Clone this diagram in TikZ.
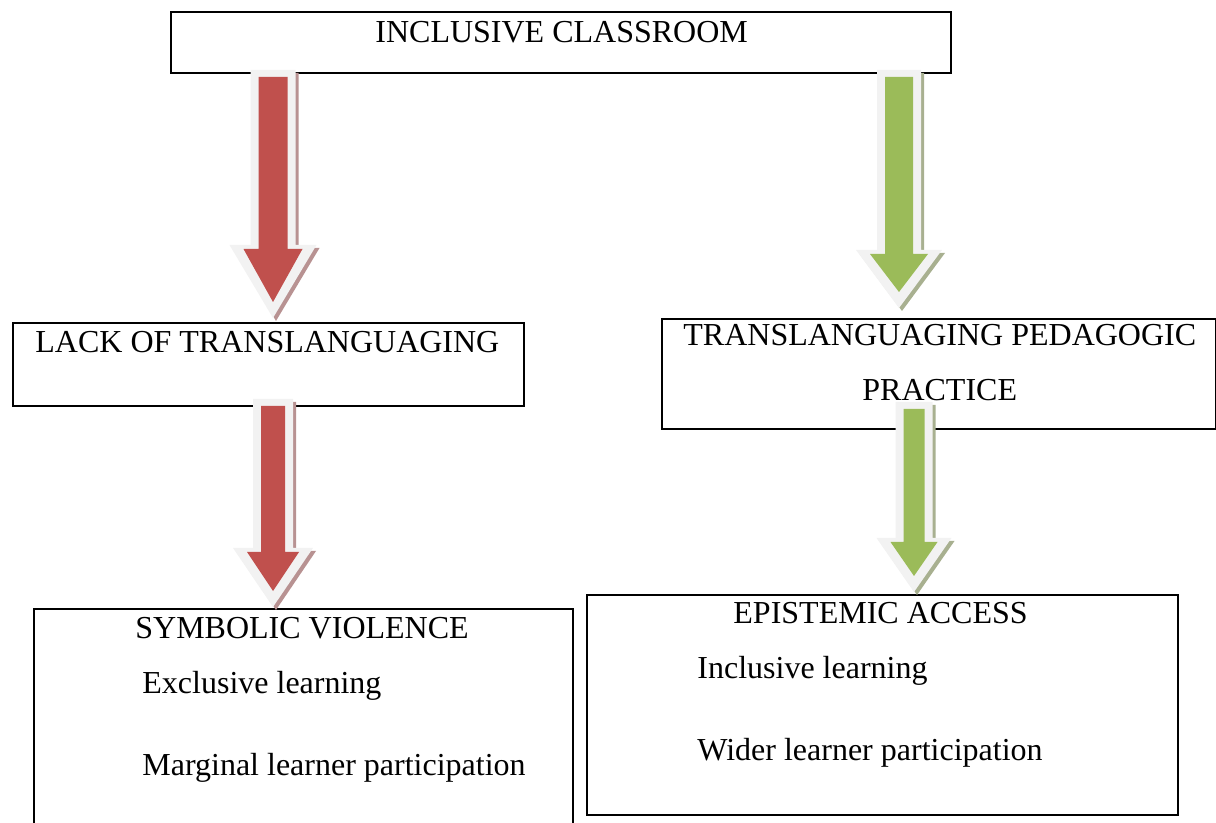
\documentclass[tikz,border=0pt]{standalone}
\usepackage{fontspec}
\setmainfont{Liberation Serif}
\usepackage{tikz}
\usetikzlibrary{calc, positioning}
\definecolor{lackred}{RGB}{192,80,77}
\definecolor{lackshadow}{RGB}{184,146,146}
\definecolor{transgreen}{RGB}{155,187,89}
\definecolor{transshadow}{RGB}{168,176,144}
\definecolor{framegray}{RGB}{242,242,242}

% block arrow: fill, shadow, from, to, shaft half width, head half width, head length
\newcommand{\flowarrow}[7]{%
    \coordinate (fs) at (#3);
    \coordinate (fe) at (#4);
    \fill [#2, transform canvas={xshift=1.5pt, yshift=-1.5pt}] ($(fs)+(-#5,0)$) -- ($(fs)+(#5,0)$) -- ($(fs|-fe)+(#5,-#7)$) -- ($(fs|-fe)+(#6,-#7)$)
        -- (fs|-fe) -- ($(fs|-fe)+(-#6,-#7)$) -- ($(fs|-fe)+(-#5,-#7)$) -- cycle;
    \fill [framegray] ($(fs)+(-#5,0)$) -- ($(fs)+(#5,0)$) -- ($(fs|-fe)+(#5,-#7)$) -- ($(fs|-fe)+(#6,-#7)$)
        -- (fs|-fe) -- ($(fs|-fe)+(-#6,-#7)$) -- ($(fs|-fe)+(-#5,-#7)$) -- cycle;
    \fill [#1] ($(fs)+({-(#5-8)},7)$) -- ($(fs)+({#5-8},7)$) -- ($(fs|-fe)+({#5-8},{-#7+4})$) -- ($(fs|-fe)+({#6-14},{-#7+4})$)
        -- ($(fs|-fe)+(0,-16)$) -- ($(fs|-fe)+({-(#6-14)},{-#7+4})$) -- ($(fs|-fe)+({-(#5-8)},{-#7+4})$) -- cycle;
}

\begin{document}
\begin{tikzpicture}[
    x=0.5pt, y=-0.5pt,
    box/.style={draw, line width=1pt, rectangle, inner sep=0pt, anchor=north west},
    boxtext/.style={font=\fontsize{16}{19}\selectfont, inner sep=0pt, anchor=base west}
]
    \useasboundingbox (0,0) rectangle (1216,823);

    % Boxes
    \node (classroom) [box, minimum width=390pt, minimum height=30.5pt] at (170,11) {};
    \node (lack) [box, minimum width=255.5pt, minimum height=41.5pt] at (12,322) {};
    \node (practice) [box, minimum width=277pt, minimum height=55pt] at (661,318) {};
    \node (violence) [box, minimum width=269.5pt, minimum height=115pt] at (33,608) {};
    \node (access) [box, minimum width=295.5pt, minimum height=110pt] at (586,594) {};

    % Texts
    \node (classroomtext) [boxtext] at ($(classroom.north west)+(205,32)$) {INCLUSIVE CLASSROOM};
    \node (lacktext) [boxtext] at ($(lack.north west)+(23,31)$) {LACK OF TRANSLANGUAGING};
    \node (practicetext) [boxtext] at ($(practice.north west)+(22,28)$) {TRANSLANGUAGING PEDAGOGIC};
    \node (practicetexttwo) [boxtext] at ($(practice.north west)+(201,83)$) {PRACTICE};
    \node (violencetext) [boxtext] at ($(violence.north west)+(102,30)$) {SYMBOLIC VIOLENCE};
    \node (exclusive) [boxtext] at ($(violence.north west)+(109,85)$) {Exclusive learning};
    \node (marginal) [boxtext] at ($(violence.north west)+(109,167)$) {Marginal learner participation};
    \node (accesstext) [boxtext] at ($(access.north west)+(147,29)$) {EPISTEMIC ACCESS};
    \node (inclusive) [boxtext] at ($(access.north west)+(111,84)$) {Inclusive learning};
    \node (wider) [boxtext] at ($(access.north west)+(111,166)$) {Wider learner participation};

    % Arrows
    \flowarrow{lackred}{lackshadow}{273,70}{273,318}{22.5}{43.5}{73}
    \flowarrow{transgreen}{transshadow}{899,70}{899,308}{22}{43}{58}
    \flowarrow{lackred}{lackshadow}{273,399}{273,607}{20}{40}{59}
    \flowarrow{transgreen}{transshadow}{914,402}{914,592}{18.5}{37.5}{54}
\end{tikzpicture}
\end{document}
